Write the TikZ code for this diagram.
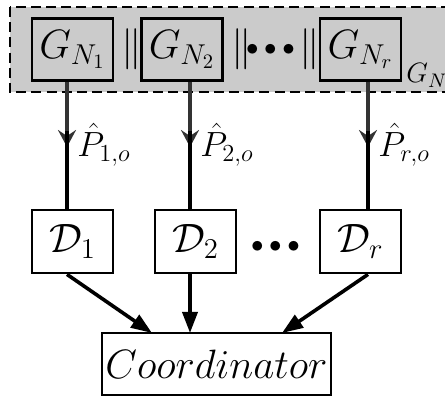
\RequirePackage{fix-cm}
\documentclass[tikz,border=0pt]{standalone}
\usetikzlibrary{arrows.meta}
\definecolor{grpfill}{HTML}{CBCBCB}
\definecolor{upline}{HTML}{333333}
\begin{document}
\begin{tikzpicture}[x=0.5pt,y=-0.5pt,
  big/.style={font=\fontsize{20.5}{24}\selectfont},
  gbox/.style={draw,line width=1.4pt,fill=grpfill,minimum width=40.5pt,minimum height=31pt,inner sep=0pt,big},
  dbox/.style={draw,line width=1.4pt,fill=white,minimum width=40.5pt,minimum height=31.5pt,inner sep=0pt,big},
  cbox/.style={draw,line width=1.4pt,fill=white,minimum width=114.5pt,minimum height=31pt,inner sep=0pt,big},
  dashbox/.style={draw,line width=1.4pt,fill=grpfill,dash pattern=on 5pt off 2.6pt},
  sym/.style={inner sep=0pt,big},
  dotsym/.style={inner sep=0pt,anchor=base,font=\fontsize{12.5}{15}\selectfont},
  plabel/.style={inner sep=0pt,anchor=west,font=\fontsize{17.5}{21}\selectfont},
  upconn/.style={draw=upline,line width=1.7pt,-{Stealth[length=8.5pt,width=9pt,inset=3pt,fill=upline]}},
  downconn/.style={draw=black,line width=1.7pt},
  toco/.style={draw=black,line width=1.8pt,-{Triangle[length=10.5pt,width=7.5pt]}}]
\clip (0,0) rectangle (445,399);
% group
\draw[dashbox] (10,7) rectangle (480,92);
\node[inner sep=0pt,anchor=base west,font=\fontsize{14}{16}\selectfont] (gnl) at (406,83) {$G_N$};
\node[gbox] (g1) at (72.5,49.5) {$G_{N_1}$};
\node[gbox] (g2) at (182,49.5) {$G_{N_2}$};
\node[gbox] (gr) at (360.5,49.5) {$G_{N_r}$};
\node[sym] (par1) at (132,49) {$\|$};
\node[sym] (par2) at (242,49) {$\|$};
\node[sym] (par3) at (310,49) {$\|$};
\node[dotsym] (gdots) at (270.5,55.5) {$\bullet\bullet\bullet$};
% D boxes
\node[dbox] (d1) at (72.5,241.5) {$\mathcal{D}_1$};
\node[dbox] (d2) at (195.5,241.5) {$\mathcal{D}_2$};
\node[dbox] (dr) at (360.5,241.5) {$\mathcal{D}_r$};
\node[dotsym] (ddots) at (275.5,252.5) {$\bullet\bullet\bullet$};
% coordinator
\node[cbox] (co) at (216.5,364) {$Coordinator$};
% arrow tips
\coordinate (a1) at (67,147);
\coordinate (a2) at (190,147);
\coordinate (ar) at (368,147);
\draw[upconn] (g1.south -| a1) -- (a1);
\draw[upconn] (g2.south -| a2) -- (a2);
\draw[upconn] (gr.south -| ar) -- (ar);
\draw[downconn] ([yshift=8pt]a1) -- (d1.north -| a1);
\draw[downconn] ([yshift=8pt]a2) -- (d2.north -| a2);
\draw[downconn] ([yshift=8pt]ar) -- (dr.north -| ar);
\node[plabel] (p1) at (77,145) {$\hat{P}_{1,o}$};
\node[plabel] (p2) at (200,145) {$\hat{P}_{2,o}$};
\node[plabel] (pr) at (378,145) {$\hat{P}_{r,o}$};
% to coordinator
\coordinate (e1) at (152,333);
\coordinate (e2) at (190,333);
\coordinate (er) at (282,333);
\draw[toco] (d1.south -| a1) -- (e1);
\draw[toco] (d2.south -| a2) -- (e2);
\draw[toco] (dr.south -| ar) -- (er);
\end{tikzpicture}
\end{document}
